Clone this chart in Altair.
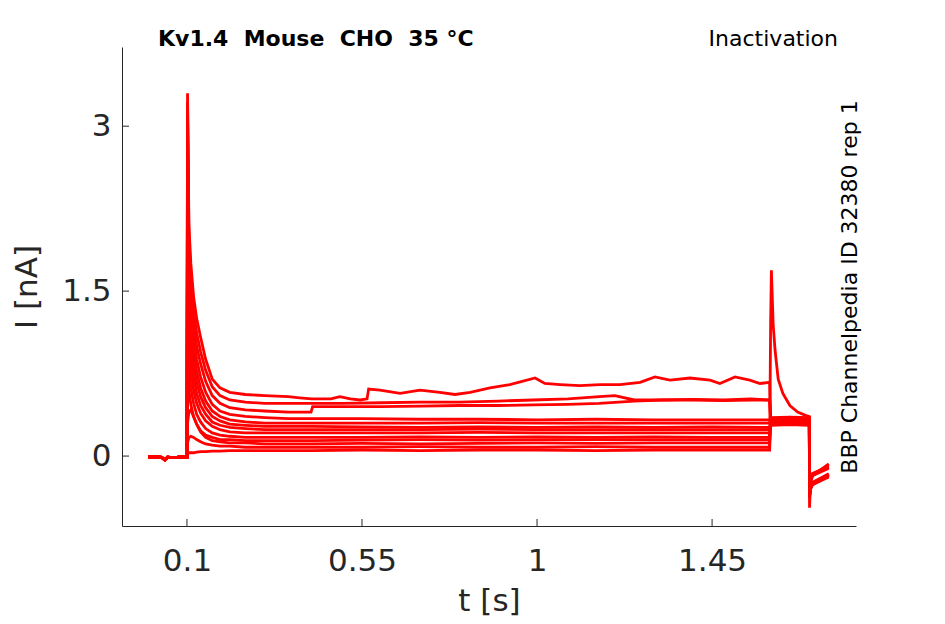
import altair as alt
import pandas as pd

# ---------------- data ----------------
X_TICKS = [0.1, 0.55, 1, 1.45]
Y_TICKS = [0, 1.5, 3]

T_BASE = [0.0, 0.02, 0.035, 0.043, 0.05, 0.065, 0.08, 0.095]
I_BASE = [-0.01, -0.005, -0.012, -0.035, -0.01, -0.015, -0.01, -0.008]

T_RISE = [0.1, 0.1015, 0.105, 0.11, 0.117, 0.125, 0.135, 0.148, 0.165, 0.185, 0.21, 0.25, 0.3, 0.36]
RISE_01 = [-0.01, 0.03, 0.03, 0.03, 0.03, 0.035, 0.04, 0.04, 0.045, 0.045, 0.05, 0.05, 0.05, 0.05]
RISE_02 = [-0.01, 0.12, 0.17, 0.18, 0.17, 0.15, 0.13, 0.11, 0.10, 0.09, 0.09, 0.08, 0.08, 0.08]
RISE_03 = [-0.01, 0.30, 0.40, 0.42, 0.36, 0.29, 0.22, 0.17, 0.14, 0.13, 0.12, 0.12, 0.11, 0.11]
RISE_04 = [-0.01, 0.90, 0.60, 0.47, 0.36, 0.29, 0.23, 0.19, 0.17, 0.15, 0.15, 0.14, 0.14, 0.14]
RISE_05 = [-0.01, 1.40, 0.78, 0.62, 0.48, 0.38, 0.31, 0.25, 0.21, 0.19, 0.18, 0.17, 0.17, 0.17]
RISE_06 = [-0.01, 1.85, 1.00, 0.78, 0.60, 0.48, 0.39, 0.32, 0.27, 0.24, 0.22, 0.21, 0.21, 0.21]
RISE_07 = [-0.01, 2.25, 1.22, 0.94, 0.72, 0.57, 0.46, 0.38, 0.31, 0.28, 0.26, 0.25, 0.24, 0.24]
RISE_08 = [-0.01, 2.55, 1.42, 1.10, 0.84, 0.67, 0.54, 0.44, 0.36, 0.32, 0.29, 0.28, 0.27, 0.27]
RISE_09 = [-0.01, 2.80, 1.60, 1.25, 0.96, 0.77, 0.62, 0.50, 0.41, 0.36, 0.33, 0.31, 0.30, 0.30]
RISE_10 = [-0.01, 2.98, 1.75, 1.38, 1.08, 0.88, 0.72, 0.58, 0.47, 0.41, 0.38, 0.36, 0.35, 0.34]
RISE_11 = [-0.01, 3.12, 1.88, 1.50, 1.20, 1.00, 0.84, 0.68, 0.55, 0.48, 0.44, 0.42, 0.41, 0.40]
RISE_12 = [-0.01, 3.22, 2.00, 1.62, 1.32, 1.12, 0.95, 0.78, 0.63, 0.55, 0.51, 0.49, 0.48, 0.48]
RISE_13 = [-0.01, 3.30, 2.10, 1.75, 1.45, 1.25, 1.08, 0.88, 0.70, 0.62, 0.58, 0.56, 0.55, 0.54]

T_FLAT = [0.42, 0.55, 0.7, 0.85, 1.0, 1.15, 1.3, 1.45, 1.598]
FLAT_01 = [0.05, 0.055, 0.05, 0.055, 0.055, 0.05, 0.055, 0.055, 0.055]
FLAT_02 = [0.08, 0.08, 0.085, 0.08, 0.08, 0.085, 0.08, 0.08, 0.08]
FLAT_03 = [0.11, 0.115, 0.11, 0.115, 0.12, 0.115, 0.12, 0.12, 0.12]
FLAT_04 = [0.14, 0.145, 0.15, 0.145, 0.15, 0.15, 0.15, 0.15, 0.15]
FLAT_05 = [0.17, 0.17, 0.175, 0.17, 0.175, 0.17, 0.175, 0.17, 0.17]
FLAT_06 = [0.21, 0.21, 0.21, 0.215, 0.21, 0.21, 0.21, 0.21, 0.21]
FLAT_07 = [0.24, 0.24, 0.24, 0.245, 0.24, 0.24, 0.24, 0.24, 0.24]
FLAT_08 = [0.27, 0.265, 0.26, 0.265, 0.26, 0.265, 0.26, 0.265, 0.26]
FLAT_09 = [0.30, 0.30, 0.30, 0.305, 0.30, 0.30, 0.30, 0.30, 0.30]
FLAT_10 = [0.34, 0.34, 0.335, 0.335, 0.33, 0.335, 0.33, 0.33, 0.33]

T_FLAT_11 = [0.40, 0.419, 0.423, 0.5, 0.6, 0.7, 0.8, 0.9, 0.99, 1.08, 1.16, 1.25, 1.32, 1.4, 1.48, 1.55, 1.598]
FLAT_11 = [0.40, 0.40, 0.45, 0.45, 0.45, 0.455, 0.46, 0.46, 0.465, 0.47, 0.48, 0.50, 0.51, 0.51, 0.505, 0.51, 0.51]
T_FLAT_12 = [0.42, 0.5, 0.6, 0.7, 0.8, 0.9, 0.99, 1.08, 1.16, 1.2, 1.25, 1.32, 1.4, 1.48, 1.55, 1.598]
FLAT_12 = [0.48, 0.48, 0.485, 0.49, 0.49, 0.50, 0.51, 0.52, 0.54, 0.55, 0.51, 0.51, 0.515, 0.51, 0.52, 0.51]
T_FLAT_13 = [0.39, 0.42, 0.47, 0.493, 0.52, 0.545, 0.563, 0.567, 0.596, 0.648, 0.699, 0.75, 0.789,
             0.828, 0.879, 0.93, 0.995, 1.02, 1.059, 1.11, 1.162, 1.213, 1.265, 1.303, 1.342,
             1.393, 1.445, 1.47, 1.509, 1.547, 1.573, 1.598]
FLAT_13 = [0.53, 0.52, 0.52, 0.54, 0.52, 0.51, 0.52, 0.61, 0.60, 0.57, 0.60, 0.58, 0.56,
           0.58, 0.62, 0.65, 0.71, 0.66, 0.65, 0.64, 0.65, 0.65, 0.67, 0.72, 0.69,
           0.71, 0.69, 0.66, 0.72, 0.69, 0.66, 0.67]

T_TEST_PEAK = [1.6005, 1.6025, 1.607, 1.612, 1.62, 1.632, 1.65, 1.67, 1.69, 1.7]
TEST_01 = [1.2, 1.69, 1.2, 0.96, 0.70, 0.57, 0.46, 0.40, 0.37, 0.36]
T_TEST = [1.6005, 1.65, 1.7]
TEST_02 = [0.34, 0.345, 0.34]
TEST_03 = [0.33, 0.335, 0.33]
TEST_04 = [0.32, 0.32, 0.325]
TEST_05 = [0.31, 0.315, 0.31]
TEST_06 = [0.30, 0.30, 0.305]
TEST_07 = [0.29, 0.295, 0.29]
TEST_08 = [0.28, 0.285, 0.28]
TEST_09 = [0.32, 0.325, 0.32]
TEST_10 = [0.33, 0.33, 0.335]
TEST_11 = [0.35, 0.355, 0.35]
TEST_12 = [0.34, 0.34, 0.345]
TEST_13 = [0.30, 0.305, 0.30]

T_TAIL = [1.7005, 1.703, 1.708, 1.75]
TAIL_01 = [-0.47, -0.25, -0.18, -0.07]
TAIL_02 = [-0.30, -0.22, -0.17, -0.08]
TAIL_03 = [-0.28, -0.21, -0.16, -0.09]
TAIL_04 = [-0.27, -0.20, -0.16, -0.10]
TAIL_05 = [-0.30, -0.22, -0.17, -0.10]
TAIL_06 = [-0.30, -0.23, -0.18, -0.11]
TAIL_07 = [-0.35, -0.28, -0.24, -0.16]
TAIL_08 = [-0.36, -0.29, -0.25, -0.17]
TAIL_09 = [-0.37, -0.30, -0.26, -0.18]
TAIL_10 = [-0.38, -0.30, -0.26, -0.17]
TAIL_11 = [-0.35, -0.29, -0.25, -0.18]
TAIL_12 = [-0.36, -0.30, -0.26, -0.19]
TAIL_13 = [-0.34, -0.28, -0.24, -0.17]

NB = "\u00a0"
TITLE_LEFT = f"Kv1.4 {NB}Mouse {NB}CHO {NB}35 °C"
TITLE_RIGHT = "Inactivation"
SIDE_TEXT = "BBP Channelpedia ID 32380 rep 1"

# ---------------- assemble ----------------
traces = [
    ("T01", RISE_01, T_FLAT, FLAT_01, T_TEST_PEAK, TEST_01, TAIL_01),
    ("T02", RISE_02, T_FLAT, FLAT_02, T_TEST, TEST_02, TAIL_02),
    ("T03", RISE_03, T_FLAT, FLAT_03, T_TEST, TEST_03, TAIL_03),
    ("T04", RISE_04, T_FLAT, FLAT_04, T_TEST, TEST_04, TAIL_04),
    ("T05", RISE_05, T_FLAT, FLAT_05, T_TEST, TEST_05, TAIL_05),
    ("T06", RISE_06, T_FLAT, FLAT_06, T_TEST, TEST_06, TAIL_06),
    ("T07", RISE_07, T_FLAT, FLAT_07, T_TEST, TEST_07, TAIL_07),
    ("T08", RISE_08, T_FLAT, FLAT_08, T_TEST, TEST_08, TAIL_08),
    ("T09", RISE_09, T_FLAT, FLAT_09, T_TEST, TEST_09, TAIL_09),
    ("T10", RISE_10, T_FLAT, FLAT_10, T_TEST, TEST_10, TAIL_10),
    ("T11", RISE_11, T_FLAT_11, FLAT_11, T_TEST, TEST_11, TAIL_11),
    ("T12", RISE_12, T_FLAT_12, FLAT_12, T_TEST, TEST_12, TAIL_12),
    ("T13", RISE_13, T_FLAT_13, FLAT_13, T_TEST, TEST_13, TAIL_13),
]

rows = []
for name, rise, ts, vs, tt, tv, tail in traces:
    t_all = T_BASE + T_RISE + ts + tt + T_TAIL
    v_all = I_BASE + rise + vs + tv + tail
    for i, (a, b) in enumerate(zip(t_all, v_all)):
        rows.append({"trace": name, "i": i, "t": a, "I": b})
df = pd.DataFrame(rows)

W, H = 734, 479
FONT = "DejaVu Sans"
GREY = "#262626"

x_scale = alt.Scale(domain=[-0.067, 1.82], nice=False, zero=False)
y_scale = alt.Scale(domain=[-0.636, 3.72], nice=False, zero=False)

lines = alt.Chart(df).mark_line(color="#ff0000", strokeWidth=2.8, clip=True).encode(
    x=alt.X("t:Q", scale=x_scale,
            axis=alt.Axis(values=X_TICKS, format=".3~g", title="t [s]", grid=False,
                          ticks=False, labelPadding=20, titlePadding=10,
                          labelFontSize=31, titleFontSize=31, labelFont=FONT, titleFont=FONT,
                          labelColor=GREY, titleColor=GREY, titleFontWeight="normal",
                          domainColor=GREY, domainWidth=1, labelFlush=False)),
    y=alt.Y("I:Q", scale=y_scale,
            axis=alt.Axis(values=Y_TICKS, format=".3~g", title="I [nA]", grid=False,
                          ticks=False, labelPadding=11, titlePadding=18,
                          labelFontSize=31, titleFontSize=31, labelFont=FONT, titleFont=FONT,
                          labelColor=GREY, titleColor=GREY, titleFontWeight="normal",
                          domainColor=GREY, domainWidth=1, labelFlush=False)),
    detail="trace:N",
    order="i:Q",
)

xticks = alt.Chart(pd.DataFrame({"t": X_TICKS})).mark_rule(color=GREY, strokeWidth=1).encode(
    x=alt.X("t:Q", scale=x_scale),
    y=alt.value(H), y2=alt.value(H - 7),
)
yticks = alt.Chart(pd.DataFrame({"I": Y_TICKS})).mark_rule(color=GREY, strokeWidth=1).encode(
    y=alt.Y("I:Q", scale=y_scale),
    x=alt.value(0), x2=alt.value(7),
)

t_left = alt.Chart(pd.DataFrame({"s": [TITLE_LEFT]})).mark_text(
    font=FONT, fontSize=22, fontWeight="bold", color="black", align="left", baseline="middle"
).encode(text="s:N", x=alt.value(36), y=alt.value(-8))

t_right = alt.Chart(pd.DataFrame({"s": [TITLE_RIGHT]})).mark_text(
    font=FONT, fontSize=22, color="black", align="right", baseline="middle"
).encode(text="s:N", x=alt.value(716), y=alt.value(-8))

t_side = alt.Chart(pd.DataFrame({"s": [SIDE_TEXT]})).mark_text(
    font=FONT, fontSize=22, color="black", align="center", baseline="middle", angle=270
).encode(text="s:N", x=alt.value(728), y=alt.value(240))

chart = alt.layer(lines, xticks, yticks, t_left, t_right, t_side).properties(
    width=W, height=H,
    autosize=alt.AutoSizeParams(type="none"),
    padding={"left": 114, "top": 39, "right": 80, "bottom": 90},
).configure_view(stroke="transparent")

chart.save("out.html", embed_options={"renderer": "svg", "actions": False})
